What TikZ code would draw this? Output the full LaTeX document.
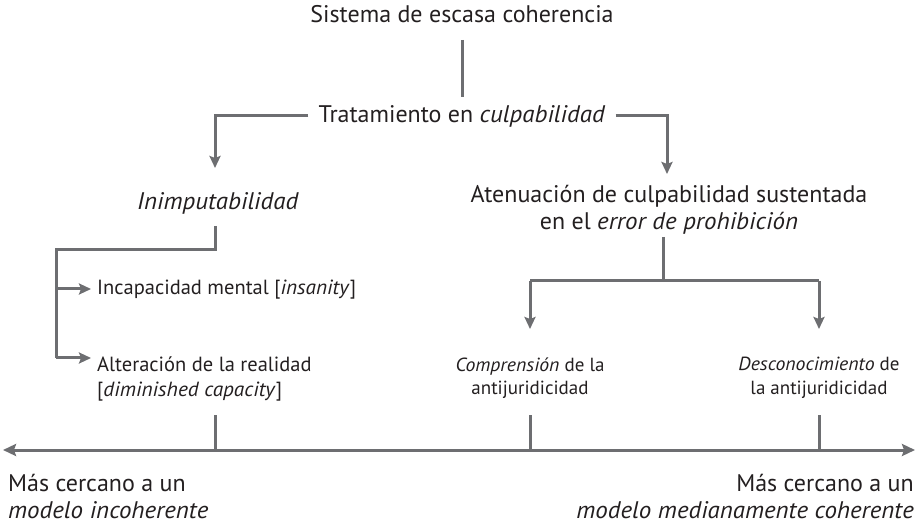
\documentclass[tikz,border=0pt]{standalone}
\usepackage{fontspec}
\setmainfont{PT Sans}[ItalicFeatures={FakeStretch=1.04}]
\usetikzlibrary{arrows.meta}
\definecolor{linegray}{HTML}{6D6E71}
\definecolor{txt}{HTML}{231F20}
\tikzset{
  big/.style={font=\fontsize{24}{27}\selectfont, text=txt, inner sep=0pt},
  small/.style={font=\fontsize{20.5}{24.5}\selectfont, text=txt, inner sep=0pt},
  mid/.style={font=\fontsize{19}{23.5}\selectfont, text=txt, inner sep=0pt},
  conn/.style={draw=linegray, line width=3pt},
  arr/.style={conn, -{Stealth[length=12pt,width=11pt,inset=2pt]}},
  axisarr/.style={conn, {Stealth[length=13pt,width=12pt,inset=2pt]}-{Stealth[length=13pt,width=12pt,inset=2pt]}}
}
\begin{document}
\begin{tikzpicture}[x=1pt,y=-1pt]
\useasboundingbox (0,0) rectangle (918,526);
\node[big] (title) at (462,14) {Sistema de escasa coherencia};
\node[big, inner xsep=10pt] (trat) at (462,116) {Tratamiento en \textit{culpabilidad}};
\node[big] (inim) at (218,203) {\textit{Inimputabilidad}};
\node[big, align=center] (aten) at (669,210) {Atenuación de culpabilidad sustentada\\en el \textit{error de prohibición}};
\node[small, anchor=west] (incap) at (97,290) {Incapacidad mental [\textit{insanity}]};
\node[small, anchor=north west, align=left] (alter) at (97,357) {Alteración de la realidad\\{}[\textit{diminished capacity}]};
\node[mid, align=center] (compr) at (530,378) {\textit{Comprensión} de la\\antijuridicidad};
\node[mid, align=center] (desc) at (819,378) {\textit{Desconocimiento} de\\la antijuridicidad};
\node[big, anchor=north west, align=left] (lft) at (8,474) {Más cercano a un\\\textit{modelo incoherente}};
\node[big, anchor=north east, align=right] (rgt) at (914,474) {Más cercano a un\\\textit{modelo medianamente coherente}};

% top
\coordinate (t0) at (462,40);
\coordinate (t1) at (462,97);
\draw[conn] (t0) -- (t1);
\coordinate (la) at (215,168);
\coordinate (ra) at (667,174);
\draw[arr] (trat.west) -| (la);
\draw[arr] (trat.east) -| (ra);
% left branch
\coordinate (a0) at (215,226);
\coordinate (b0) at (215,250);
\coordinate (b1) at (56,250);
\coordinate (b2) at (56,289);
\coordinate (b3) at (56,358);
\coordinate (e2) at (91,289);
\coordinate (e3) at (91,358);
\draw[conn] (a0) -- (b0) -- (b1) -- (b3);
\draw[arr] (b2) -- (e2);
\draw[arr] (b3) -- (e3);
% right branch
\coordinate (r1) at (663,237);
\coordinate (r0) at (663,281);
\coordinate (c0) at (530,281);
\coordinate (d0) at (819,281);
\coordinate (c1) at (530,329);
\coordinate (d1) at (819,329);
\draw[conn] (r1) -- (r0);
\draw[conn] (c0) -- (d0);
\draw[arr] (c0) -- (c1);
\draw[arr] (d0) -- (d1);
% axis
\coordinate (xl) at (3,450);
\coordinate (xr) at (915,450);
\draw[axisarr] (xl) -- (xr);
\foreach \x in {215,530,819}
  \draw[conn] (\x,415) -- (\x,450);
\end{tikzpicture}
\end{document}
